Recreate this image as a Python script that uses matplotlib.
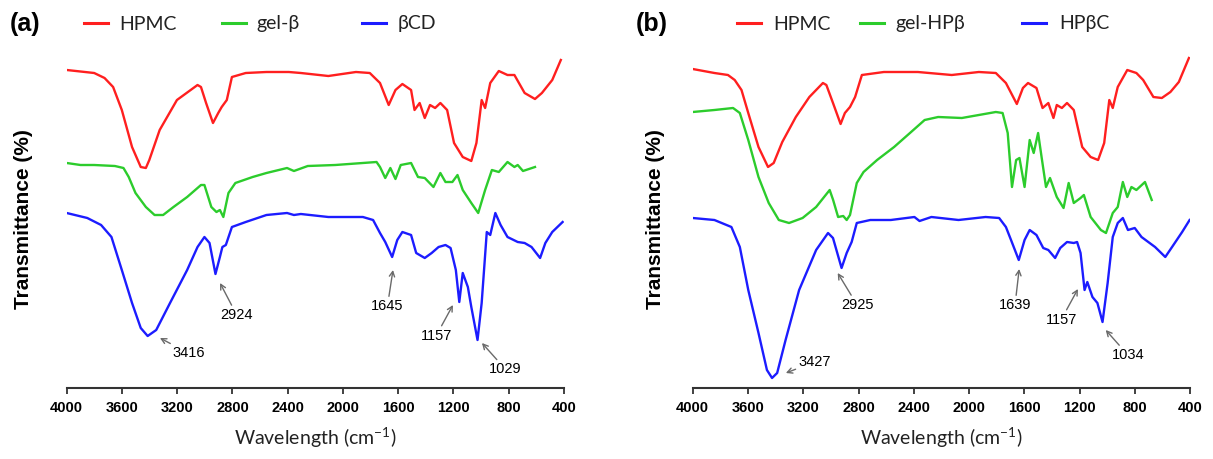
"""
FTIR-Spektren: HPMC, Gel und Cyclodextrin (Panel a: betaCD, Panel b: HPbetaCD).
Speichert die Abbildung als out.png.
"""

import matplotlib
matplotlib.use("Agg")
import matplotlib.pyplot as plt
from matplotlib.lines import Line2D

W, H = 1213, 459

# ── Daten (Wellenzahl in cm-1, Transmission in willkuerlichen Einheiten) ─────

# Panel (a)
a_hpmc_wn = [4000, 3801, 3726, 3664, 3601, 3527, 3464, 3427, 3402, 3327, 3202, 3053,
             3028, 2991, 2941, 2903, 2878, 2841, 2804, 2704, 2554, 2392, 2305, 2106,
             1906, 1806, 1732, 1669, 1620, 1570, 1507, 1482, 1445, 1408, 1370, 1333,
             1295, 1246, 1196, 1133, 1071, 1034, 996, 971, 934, 872, 809, 759, 685,
             610, 560, 485, 423]
a_hpmc_t = [317, 314, 309, 300, 277, 240, 220, 219, 227, 257, 287, 302, 300, 284, 264,
            274, 280, 287, 310, 314, 315, 315, 314, 311, 315, 314, 304, 282, 297, 303,
            297, 277, 284, 269, 282, 279, 284, 277, 244, 230, 226, 244, 287, 279, 304,
            316, 312, 312, 294, 288, 294, 307, 327]

a_gel_wn = [4000, 3900, 3801, 3651, 3589, 3551, 3502, 3427, 3364, 3302, 3227, 3128,
            3028, 3003, 2953, 2916, 2891, 2866, 2829, 2779, 2654, 2554, 2405, 2355,
            2255, 2056, 1757, 1732, 1694, 1657, 1620, 1582, 1507, 1457, 1408, 1345,
            1295, 1258, 1208, 1171, 1133, 1071, 1021, 971, 922, 872, 809, 759, 735,
            697, 610]
a_gel_t = [224, 222, 222, 221, 219, 210, 194, 180, 172, 172, 180, 190, 202, 202, 180,
           175, 177, 170, 194, 204, 210, 214, 219, 216, 221, 222, 225, 220, 209, 219,
           208, 222, 224, 210, 209, 200, 214, 205, 205, 212, 197, 184, 174, 197, 217,
           215, 225, 220, 222, 216, 220]

a_cd_wn = [4000, 3851, 3751, 3676, 3601, 3527, 3464, 3414, 3352, 3252, 3128, 3053,
           3003, 2966, 2923, 2891, 2873, 2848, 2804, 2704, 2554, 2405, 2355, 2305,
           2106, 1856, 1782, 1732, 1694, 1644, 1607, 1570, 1507, 1470, 1408, 1358,
           1308, 1258, 1221, 1183, 1158, 1133, 1096, 1071, 1026, 996, 959, 934, 897,
           859, 809, 735, 685, 635, 573, 535, 485, 410]
a_cd_t = [174, 169, 162, 150, 117, 84, 59, 51, 57, 84, 117, 140, 150, 144, 113, 130,
          140, 142, 160, 165, 172, 174, 172, 173, 170, 170, 167, 154, 145, 130, 147,
          155, 152, 134, 129, 134, 140, 142, 139, 117, 85, 114, 100, 80, 47, 84, 155,
          152, 174, 162, 150, 145, 144, 140, 129, 144, 155, 165]

# Panel (b)
b_hpmc_wn = [4000, 3843, 3745, 3696, 3647, 3598, 3524, 3455, 3414, 3352, 3254, 3156,
             3058, 3033, 2985, 2930, 2899, 2862, 2825, 2776, 2617, 2371, 2126, 1930,
             1807, 1734, 1655, 1611, 1574, 1513, 1469, 1427, 1390, 1366, 1329, 1292,
             1243, 1182, 1121, 1067, 1023, 986, 961, 925, 856, 790, 741, 667, 606,
             544, 483, 410]
b_hpmc_t = [318, 314, 312, 307, 297, 274, 240, 220, 224, 245, 270, 290, 304, 302, 284,
            263, 274, 280, 290, 312, 315, 315, 312, 315, 314, 304, 283, 299, 304, 299,
            279, 284, 269, 282, 279, 284, 277, 240, 230, 227, 244, 287, 279, 300, 317,
            314, 307, 290, 289, 295, 305, 329]

b_gel_wn = [4000, 3843, 3708, 3659, 3598, 3524, 3450, 3377, 3303, 3205, 3107, 3009,
            2984, 2948, 2911, 2886, 2862, 2813, 2764, 2666, 2543, 2420, 2322, 2224,
            2053, 1930, 1807, 1758, 1721, 1690, 1660, 1636, 1599, 1562, 1533, 1501,
            1476, 1444, 1415, 1366, 1317, 1280, 1243, 1194, 1170, 1121, 1047, 1010,
            961, 925, 888, 856, 826, 790, 728, 679]
b_gel_t = [275, 277, 279, 274, 247, 210, 184, 167, 164, 169, 180, 197, 187, 170, 171,
           167, 172, 204, 215, 227, 240, 255, 267, 270, 269, 272, 275, 274, 254, 200,
           227, 229, 200, 247, 234, 254, 230, 200, 209, 190, 179, 204, 184, 189, 192,
           170, 157, 154, 174, 180, 205, 190, 200, 197, 205, 187]

b_cd_wn = [4000, 3843, 3720, 3659, 3598, 3524, 3463, 3426, 3389, 3328, 3230, 3107,
           3021, 2985, 2923, 2886, 2850, 2813, 2715, 2567, 2396, 2359, 2273, 2077,
           1881, 1783, 1734, 1697, 1641, 1599, 1562, 1513, 1464, 1427, 1378, 1341,
           1292, 1243, 1219, 1194, 1165, 1145, 1108, 1072, 1035, 998, 961, 925, 888,
           851, 802, 753, 704, 655, 581, 532, 459, 405]
b_cd_t = [169, 167, 160, 140, 97, 54, 17, 9, 14, 47, 97, 137, 154, 149, 119, 134, 145,
          164, 167, 167, 170, 166, 170, 167, 170, 169, 160, 147, 127, 147, 157, 152,
          139, 137, 129, 139, 145, 144, 145, 134, 97, 105, 90, 84, 65, 104, 150, 164,
          169, 157, 159, 150, 145, 140, 130, 140, 155, 167]

# Peak-Beschriftungen (Pfeilspitze in Datenkoordinaten)
a_peak_labels = ["3416", "2924", "1645", "1157", "1029"]
a_peak_wn = [3325, 2890, 1638, 1204, 994]
a_peak_t = [49, 104, 117, 82, 44]

b_peak_labels = ["3427", "2925", "1639", "1157", "1034"]
b_peak_wn = [3326, 2951, 1638, 1213, 1012]
b_peak_t = [14, 114, 118, 98, 57]

a_legend = ["HPMC", "gel-β", "βCD"]
b_legend = ["HPMC", "gel-HPβ", "HPβC"]

x_ticks = [4000, 3600, 3200, 2800, 2400, 2000, 1600, 1200, 800, 400]

COLORS = ["#ff1f1f", "#2ccc2c", "#1c1cff"]
AXIS_COLOR = "#333333"
LEGEND_FONT = ["Lato", "DejaVu Sans"]

plt.rcParams["mathtext.default"] = "regular"


# ── Hilfsfunktionen ──────────────────────────────────────────────────────────

def style_axis(ax):
    for side in ("top", "left", "right"):
        ax.spines[side].set_visible(False)
    ax.spines["bottom"].set_color(AXIS_COLOR)
    ax.spines["bottom"].set_linewidth(1.5)
    ax.set_xlim(4000, 400)
    ax.set_ylim(-1, 337)
    ax.set_yticks([])
    ax.set_xticks(x_ticks)
    ax.set_xticklabels([str(t) for t in x_ticks], fontweight="bold",
                       fontsize=10.5, family="Liberation Sans")
    ax.tick_params(axis="x", direction="out", length=4, width=1.3,
                   color=AXIS_COLOR, pad=5)
    ax.set_xlabel("Wavelength (cm$^{-1}$)", fontsize=14, family="Lato",
                  color="#222222", labelpad=8)


def annotate_peaks(ax, labels, wns, ts, offsets, aligns):
    for lab, wn, t, off, ha in zip(labels, wns, ts, offsets, aligns):
        ax.annotate(lab, xy=(wn, t), xytext=off, textcoords="offset points",
                    ha=ha, va="center", fontsize=10.5, family="Liberation Sans",
                    arrowprops=dict(arrowstyle="->,head_length=0.35,head_width=0.18",
                                    color="#6a6a6a", lw=1.0, shrinkA=0, shrinkB=0))


def draw_legend(fig, labels, handle_x, text_x, y=23):
    for lab, col, hx, tx in zip(labels, COLORS, handle_x, text_x):
        fig.add_artist(Line2D([hx / W, (hx + 24) / W], [1 - y / H, 1 - y / H],
                              color=col, lw=2.2, transform=fig.transFigure))
        fig.text(tx / W, 1 - (y + 1) / H, lab, fontsize=14, family=LEGEND_FONT,
                 ha="left", va="center", color="#222222")


# ── Hauptlogik ───────────────────────────────────────────────────────────────

def main():
    fig = plt.figure(figsize=(W / 100, H / 100), dpi=100)
    ax_a = fig.add_axes([66.7 / W, 71 / H, 497.3 / W, 338 / H])
    ax_b = fig.add_axes([692.7 / W, 71 / H, 497.6 / W, 338 / H])

    series_a = [(a_hpmc_wn, a_hpmc_t), (a_gel_wn, a_gel_t), (a_cd_wn, a_cd_t)]
    series_b = [(b_hpmc_wn, b_hpmc_t), (b_gel_wn, b_gel_t), (b_cd_wn, b_cd_t)]

    for ax, series in ((ax_a, series_a), (ax_b, series_b)):
        for (wn, t), col in zip(series, COLORS):
            ax.plot(wn, t, color=col, lw=1.7, solid_joinstyle="round")
        style_axis(ax)
        ax.set_ylabel("Transmittance (%)", fontsize=15, fontweight="bold",
                      family="Liberation Sans", labelpad=24)

    ax_b.yaxis.labelpad = 20

    annotate_peaks(ax_a, a_peak_labels, a_peak_wn, a_peak_t,
                   [(9, -11), (12, -23), (-4, -26), (-12, -22), (17, -19)],
                   ["left", "center", "center", "center", "center"])
    annotate_peaks(ax_b, b_peak_labels, b_peak_wn, b_peak_t,
                   [(9, 8), (14, -23), (-3, -26), (-12, -22), (16, -18)],
                   ["left", "center", "center", "center", "center"])

    fig.text(25 / W, 1 - 24 / H, "(a)", fontsize=18, fontweight="bold",
             family="Liberation Sans", ha="center", va="center")
    fig.text(652 / W, 1 - 24 / H, "(b)", fontsize=18, fontweight="bold",
             family="Liberation Sans", ha="center", va="center")

    draw_legend(fig, a_legend, [84, 222, 362], [119, 256, 398])
    draw_legend(fig, b_legend, [737, 860, 1022], [773, 895, 1059])

    fig.savefig("out.png", dpi=100)
    plt.close(fig)


if __name__ == "__main__":
    main()
